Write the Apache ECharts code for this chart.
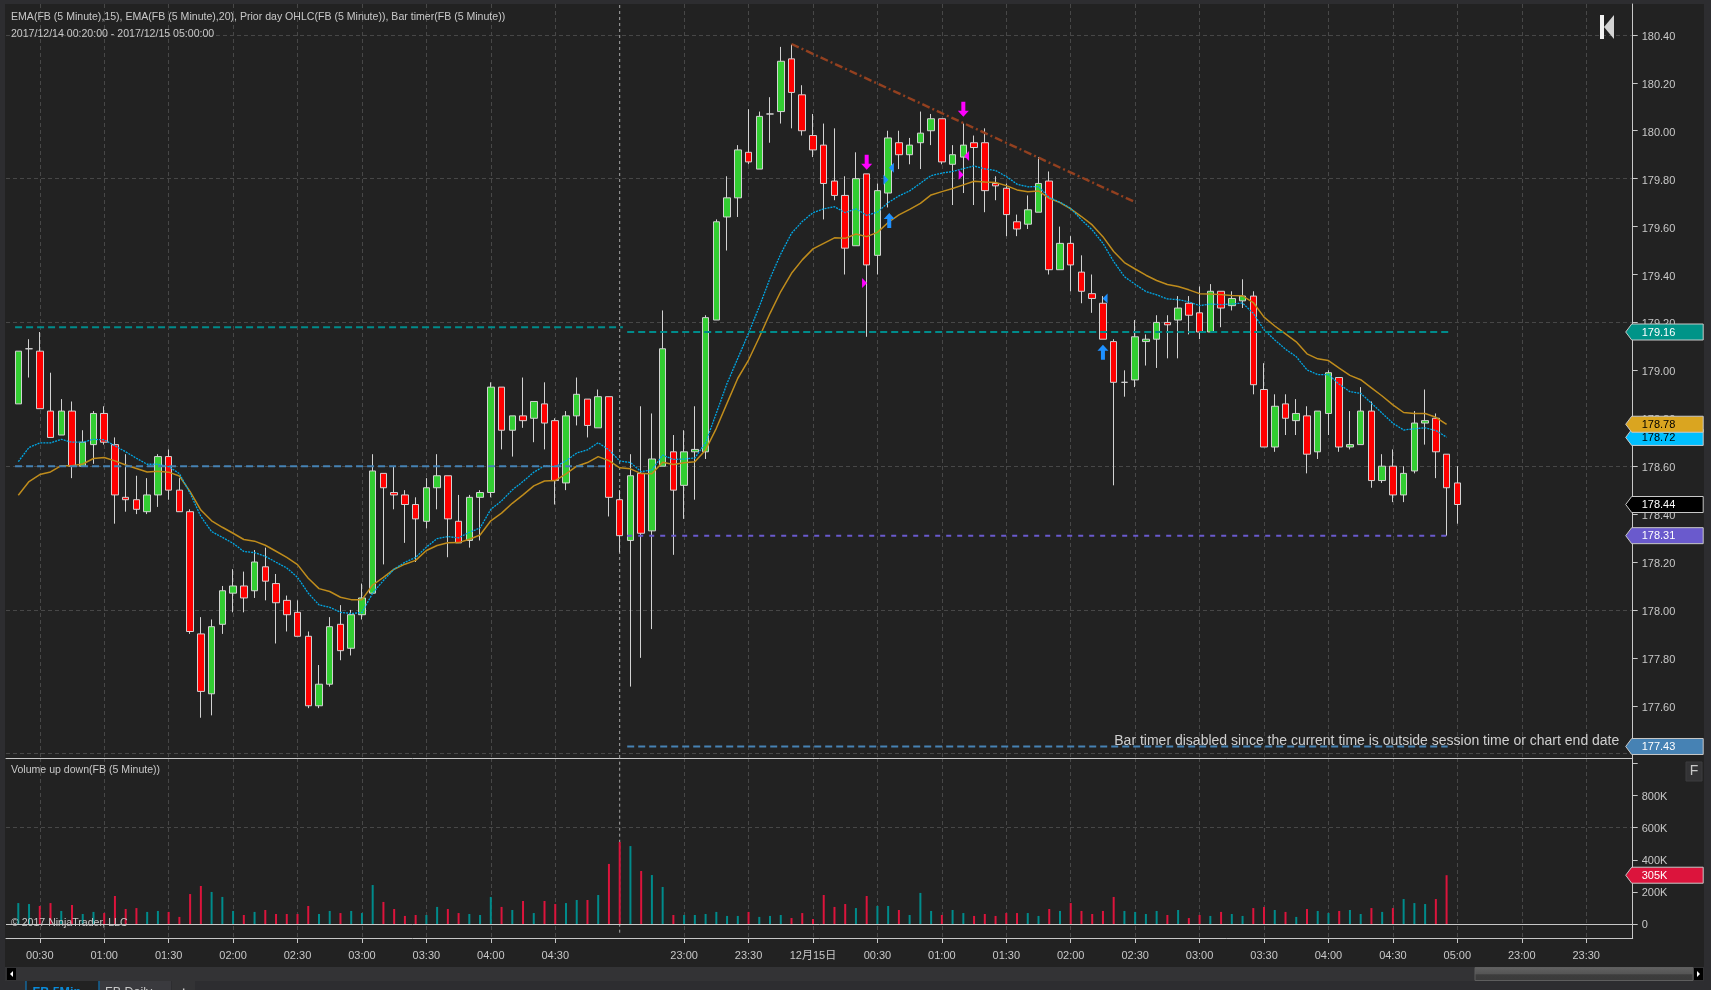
<!DOCTYPE html>
<html><head><meta charset="utf-8">
<style>html,body{margin:0;padding:0;background:#2d2d30;overflow:hidden}#c{width:1711px;height:990px}</style>
<script src="https://cdn.jsdelivr.net/npm/echarts@6/dist/echarts.min.js"></script>
</head><body><div id="c"></div>
<script>
// ---- data; bar index 0 = 00:20, one bar every 5 minutes of session ----
const opens=[178.86,179.09,179.08,178.83,178.73,178.83,178.60,178.69,178.82,178.69,178.47,178.46,178.41,178.48,178.64,178.50,178.41,177.90,177.65,177.94,178.07,178.10,178.08,178.18,178.11,178.04,177.99,177.89,177.60,177.69,177.94,177.84,177.98,178.07,178.57,178.49,178.48,178.44,178.37,178.51,178.56,178.37,178.29,178.47,178.49,178.93,178.75,178.81,178.80,178.86,178.79,178.53,178.81,178.88,178.76,178.89,178.46,178.29,178.57,178.33,178.60,178.66,178.52,178.66,178.66,179.21,179.64,179.72,179.91,179.84,180.07,180.08,180.30,180.15,179.98,179.94,179.79,179.73,179.52,179.82,179.48,179.74,179.95,179.90,179.95,180.00,180.05,179.86,179.89,179.95,179.95,179.78,179.76,179.62,179.61,179.66,179.79,179.42,179.53,179.41,179.32,179.28,179.12,178.95,178.96,179.12,179.13,179.20,179.21,179.28,179.24,179.16,179.33,179.27,179.29,179.31,178.92,178.68,178.86,178.79,178.81,178.66,178.82,178.97,178.68,178.69,178.83,178.54,178.60,178.48,178.58,178.78,178.80,178.65,178.53];
const closes=[179.08,179.09,178.84,178.72,178.83,178.60,178.70,178.82,178.70,178.48,178.46,178.42,178.48,178.64,178.50,178.41,177.91,177.66,177.93,178.08,178.10,178.05,178.20,178.12,178.03,177.98,177.89,177.60,177.69,177.93,177.83,177.98,178.05,178.58,178.51,178.48,178.44,178.38,178.51,178.56,178.38,178.28,178.47,178.49,178.93,178.75,178.81,178.79,178.87,178.78,178.54,178.81,178.90,178.77,178.89,178.47,178.31,178.56,178.32,178.63,179.09,178.50,178.66,178.67,179.22,179.62,179.72,179.92,179.87,180.06,180.07,180.29,180.16,180.00,179.92,179.78,179.73,179.51,179.80,179.44,179.75,179.97,179.90,179.94,179.99,180.05,179.87,179.90,179.94,179.93,179.75,179.77,179.65,179.59,179.67,179.78,179.42,179.53,179.44,179.33,179.30,179.13,178.95,178.95,179.14,179.13,179.20,179.19,179.26,179.23,179.16,179.33,179.26,179.30,179.31,178.94,178.68,178.85,178.80,178.82,178.65,178.83,178.99,178.68,178.69,178.83,178.54,178.60,178.48,178.57,178.78,178.79,178.66,178.51,178.44];
const lows=[178.86,178.97,178.84,178.72,178.73,178.55,178.60,178.61,178.69,178.36,178.41,178.40,178.40,178.43,178.46,178.41,177.90,177.55,177.56,177.90,177.99,177.99,178.05,178.04,177.86,177.91,177.89,177.59,177.59,177.68,177.79,177.81,177.96,178.07,178.19,178.42,178.28,178.20,178.34,178.42,178.22,178.28,178.26,178.29,178.47,178.67,178.64,178.76,178.70,178.67,178.44,178.50,178.77,178.72,178.76,178.39,178.24,177.68,177.80,177.92,178.60,178.23,178.38,178.46,178.63,179.21,179.50,179.64,179.86,179.84,179.95,180.03,180.01,179.98,179.89,179.63,179.71,179.40,179.52,179.14,179.40,179.68,179.84,179.86,179.84,179.94,179.86,179.69,179.74,179.69,179.66,179.71,179.56,179.56,179.59,179.66,179.40,179.42,179.33,179.28,179.24,179.13,178.52,178.89,178.93,179.02,179.01,179.05,179.05,179.15,179.13,179.16,179.18,179.25,179.26,178.90,178.68,178.66,178.73,178.73,178.57,178.63,178.73,178.66,178.67,178.69,178.51,178.53,178.45,178.45,178.57,178.69,178.55,178.31,178.36];
const highs=[179.08,179.13,179.16,178.99,178.88,178.87,178.75,178.83,178.85,178.72,178.65,178.56,178.55,178.65,178.67,178.55,178.42,177.97,177.96,178.10,178.17,178.16,178.25,178.26,178.15,178.06,178.04,177.91,177.77,177.97,178.02,178.00,178.11,178.65,178.57,178.60,178.50,178.47,178.55,178.65,178.56,178.48,178.48,178.50,178.95,178.93,178.81,178.97,178.87,178.95,178.80,178.83,178.97,178.88,178.92,178.89,178.50,178.65,178.85,178.82,179.25,178.73,178.75,178.85,179.23,179.63,179.81,179.94,180.09,180.08,180.14,180.35,180.36,180.19,180.07,180.03,180.01,179.81,179.91,179.82,179.78,180.00,180.00,179.97,180.08,180.07,180.05,179.94,180.03,179.98,180.01,179.81,179.78,179.65,179.73,179.89,179.83,179.60,179.56,179.48,179.40,179.31,179.13,179.00,179.21,179.15,179.23,179.23,179.31,179.31,179.35,179.36,179.33,179.33,179.38,179.33,179.03,178.90,178.90,178.88,178.85,178.83,179.00,178.97,178.83,178.93,178.87,178.65,178.67,178.60,178.83,178.92,178.82,178.65,178.60];
const ema15=[178.619,178.678,178.697,178.697,178.712,178.700,178.700,178.712,178.710,178.685,178.660,178.633,178.608,178.608,178.598,178.569,178.487,178.390,178.327,178.303,178.278,178.244,178.239,178.224,178.199,178.175,178.136,178.070,178.021,178.011,177.990,177.985,177.989,178.070,178.123,178.170,178.199,178.219,178.262,178.298,178.306,178.301,178.324,178.342,178.420,178.455,178.501,178.536,178.575,178.601,178.598,178.622,178.655,178.668,178.698,178.668,178.622,178.615,178.577,178.584,178.646,178.628,178.630,178.634,178.698,178.821,178.946,179.050,179.155,179.266,179.384,179.486,179.572,179.621,179.658,179.674,179.683,179.658,179.674,179.647,179.660,179.700,179.728,179.749,179.781,179.813,179.823,179.830,179.842,179.853,179.841,179.834,179.809,179.777,179.766,179.767,179.721,179.702,179.676,179.628,179.586,179.530,179.454,179.391,179.359,179.329,179.315,179.298,179.295,179.286,179.270,179.277,179.274,179.277,179.281,179.238,179.169,179.127,179.088,179.057,179.002,178.982,178.982,178.942,178.911,178.904,178.863,178.821,178.779,178.751,178.756,178.760,178.749,178.721];
const ema20=[178.479,178.536,178.565,178.576,178.602,178.602,178.609,178.632,178.636,178.622,178.605,178.590,178.576,178.579,178.575,178.559,178.494,178.417,178.372,178.345,178.320,178.294,178.287,178.270,178.245,178.219,178.189,178.132,178.089,178.077,178.053,178.043,178.043,178.104,178.136,178.170,178.191,178.207,178.248,178.269,178.280,178.281,178.295,178.313,178.372,178.404,178.445,178.480,178.518,178.538,178.540,178.568,178.600,178.615,178.640,178.623,178.593,178.589,178.569,178.568,178.616,178.607,178.614,178.618,178.668,178.758,178.863,178.967,179.043,179.138,179.238,179.329,179.405,179.461,179.507,179.530,179.553,179.551,179.569,179.558,179.576,179.617,179.649,179.672,179.697,179.732,179.746,179.759,179.774,179.789,179.786,179.784,179.771,179.753,179.745,179.749,179.718,179.700,179.674,179.642,179.607,179.558,179.496,179.450,179.423,179.397,179.375,179.358,179.350,179.336,179.320,179.319,179.316,179.312,179.311,179.283,179.222,179.185,179.152,179.119,179.069,179.048,179.041,179.009,178.979,178.961,178.927,178.893,178.856,178.824,178.820,178.820,178.804,178.774];
const volumes=[132,126,114,132,83,120,64,77,70,176,95,101,77,83,77,46,188,238,201,170,83,58,77,89,64,64,64,114,64,83,70,83,70,244,139,95,52,58,58,108,95,70,64,58,170,108,89,145,70,145,126,132,151,151,182,375,511,486,331,306,232,58,58,58,64,77,52,52,77,46,52,58,39,70,33,182,108,126,101,176,114,114,89,58,195,83,58,89,70,52,64,52,70,70,70,52,95,83,132,83,64,83,170,83,77,64,83,58,89,39,58,52,77,64,52,101,108,89,77,46,95,83,70,83,89,64,101,77,101,157,132,126,157,305];
const volumeDown=[0,0,1,1,0,1,0,0,1,1,1,1,0,0,1,1,1,1,0,0,0,1,0,1,1,1,1,1,0,0,1,0,0,0,1,1,1,1,0,0,1,1,0,0,0,1,0,1,0,1,1,0,0,1,0,1,1,0,1,0,0,1,0,0,0,0,0,0,1,0,0,0,1,1,1,1,1,1,0,1,0,0,1,0,0,0,1,0,0,1,1,1,1,1,0,0,1,0,1,1,1,1,1,0,0,0,0,1,0,1,1,0,1,0,0,1,1,0,1,0,1,0,0,1,0,0,1,0,1,0,0,0,1,1];
const tickBars=[2,8,14,20,26,32,38,44,50,62,68,74,80,86,92,98,104,110,116,122,128,134,140,146];
const timeLabels=['00:30','01:00','01:30','02:00','02:30','03:00','03:30','04:00','04:30','23:00','23:30','12月15日','00:30','01:00','01:30','02:00','02:30','03:00','03:30','04:00','04:30','05:00','23:00','23:30'];
const priceLabels=[177.6,177.8,178.0,178.2,178.4,178.6,178.8,179.0,179.2,179.4,179.6,179.8,180.0,180.2,180.4];
const priceTicks=[177.4].concat(priceLabels);
const priceGrid=[177.4,178.0,178.6,179.2,179.8,180.4];
const volumeLabels=[0,200,400,600,800];
const volumeTicks=[0,200,400,600,800,1000];
const volumeGrid=[600];
const levelStarts=[-0.3,-0.3,56.7,56.7,56.7];
const levelEnds=[56.3,55.1,133.3,133.1,133.1];
const levelPrices=[179.18,178.60,179.16,178.31,177.43];
const levelColors=['#008b8b','#4682b4','#008b8b','#6a5acd','#4682b4'];
const trendBars=[72,104];
const trendPrices=[180.362,179.702];
const sellArrows=[[79,179.868],[88,180.09]];
const buyArrows=[[81.1,179.625],[101,179.075]];
const magentaRight=[[78.8,179.365],[87.8,179.816]];
const magentaLeft=[[88.3,179.895]];
const blueRight=[[80.8,179.795]];
const blueLeft=[[81.3,179.846],[101.2,179.30]];
const sessionBreakBar=56;
const tagPrices=[179.16,178.72,178.775,178.44,178.31,177.43];
const tagTexts=['179.16','178.72','178.78','178.44','178.31','177.43'];
const tagFills=['#009488','#00bfff','#daa520','#000000','#6a5acd','#4682b4'];
const tagInks=['#ffffff','#000000','#000000','#ffffff','#ffffff','#ffffff'];

// ---- layout ----
const FONT='"Liberation Sans","Noto Sans CJK SC",sans-serif';
const INK='#c8c8c8', GRID='#474747';
const xMin=-1.145,xMax=150.33;
const pMin=177.382,pMax=180.529,vMin=-85,vMax=1033;

const gridLine={show:true,lineStyle:{color:GRID,width:1,type:[4,3]}};
function hiddenY(gridIndex,min,max,values){
  return {type:'value',gridIndex,position:'left',min,max,scale:true,axisLine:{show:false},axisLabel:{show:false},
    axisTick:{show:false,customValues:values},splitLine:gridLine};
}
function labelY(gridIndex,min,max,ticks,labels,fmt,lineH){
  return {type:'value',gridIndex,position:'right',min,max,scale:true,
    axisLine:{show:true,onZero:false,lineStyle:{color:INK,width:1}},
    axisTick:{show:true,length:5,customValues:ticks,lineStyle:{color:INK}},
    axisLabel:{show:true,margin:9,customValues:labels,formatter:fmt,color:INK,fontFamily:FONT,fontSize:11,verticalAlign:'top',lineHeight:lineH},
    splitLine:{show:false}};
}
function tagSeries(xAxisIndex,yAxisIndex,prices,texts,fills,inks,z){
  return {type:'custom',xAxisIndex,yAxisIndex,z,silent:true,clip:false,
    encode:{x:0,y:1},data:prices.map(p=>[xMax,p]),
    renderItem(params,api){
      const c=api.coord([api.value(0),api.value(1)]);
      const i=params.dataIndex,x=c[0],y=c[1];
      return {type:'group',children:[
        {type:'polygon',shape:{points:[[x-7,y],[x-1,y-8],[x+70.5,y-8],[x+70.5,y+8],[x-1,y+8]]},
         style:{fill:fills[i],stroke:INK,lineWidth:1}},
        {type:'text',style:{x:x+9,y:y+0.5,text:texts[i],fill:inks[i],font:'11px '+FONT,verticalAlign:'middle',textAlign:'left'}}
      ]};
    }};
}
function marker(name,data,symbol,size,color,rotate){
  return {type:'scatter',name,xAxisIndex:0,yAxisIndex:0,data,symbol,symbolSize:size,symbolRotate:rotate||0,
    itemStyle:{color,opacity:1},z:8,silent:true,clip:false};
}
const DOWN='path://M3.5,0 L7.5,0 L7.5,9 L11,9 L5.5,15 L0,9 L3.5,9 Z';
const UP='path://M5.5,0 L11,6 L7.5,6 L7.5,15 L3.5,15 L3.5,6 L0,6 Z';

const levelSeries=levelPrices.map((p,i)=>({type:'line',xAxisIndex:0,yAxisIndex:0,silent:true,showSymbol:false,symbol:'none',z:6,
  data:[[levelStarts[i],p],[levelEnds[i],p]],lineStyle:{color:levelColors[i],width:2,type:levelColors[i]==='#6a5acd'?[5,6]:[7,4]}}));

const option={
  animation:false,
  backgroundColor:'#2d2d30',
  grid:[{left:6,top:4,width:1626.7,height:754},{left:6,top:758,width:1626.7,height:180}],
  xAxis:[
    {type:'value',gridIndex:0,min:xMin,max:xMax,position:'bottom',
     axisLine:{show:true,onZero:false,lineStyle:{color:INK,width:1}},axisLabel:{show:false},
     axisTick:{show:false,customValues:tickBars},splitLine:gridLine},
    {type:'value',gridIndex:1,min:xMin,max:xMax,position:'bottom',
     axisLine:{show:true,onZero:false,lineStyle:{color:INK,width:1}},
     axisTick:{show:true,length:5,customValues:tickBars,lineStyle:{color:INK}},
     axisLabel:{show:true,margin:12,customValues:tickBars,color:INK,fontFamily:FONT,fontSize:11,
       formatter:v=>timeLabels[tickBars.indexOf(v)]||''},
     splitLine:gridLine}
  ],
  yAxis:[
    labelY(0,pMin,pMax,priceTicks,priceLabels,v=>v.toFixed(2),4),
    hiddenY(0,pMin,pMax,priceGrid),
    labelY(1,vMin,vMax,volumeTicks,volumeLabels,v=>v===0?'0':v+'K',2),
    hiddenY(1,vMin,vMax,volumeGrid)
  ],
  series:[
    {type:'line',xAxisIndex:0,yAxisIndex:0,silent:true,symbol:'none',z:1,data:[[sessionBreakBar,pMin],[sessionBreakBar,pMax]],
     lineStyle:{color:'#a8a8a8',width:1,type:[3,3]}},
    {type:'line',xAxisIndex:1,yAxisIndex:2,silent:true,symbol:'none',z:1,data:[[sessionBreakBar,-52],[sessionBreakBar,vMax]],
     lineStyle:{color:'#a8a8a8',width:1,type:[3,3]}},
    {type:'candlestick',xAxisIndex:0,yAxisIndex:0,layout:'horizontal',barWidth:7,z:3,silent:true,
     encode:{x:0,y:[1,2,3,4]},
     data:opens.map((o,i)=>[i,o,closes[i],lows[i],highs[i]]),
     itemStyle:{color:'#32cd32',color0:'#ff0000',borderColor:'#d2d2d2',borderColor0:'#d2d2d2',borderColorDoji:'#d2d2d2',borderWidth:1}},
    ...levelSeries,
    {type:'line',name:'EMA20',xAxisIndex:0,yAxisIndex:0,silent:true,symbol:'none',z:5,
     data:ema20.map((v,i)=>[i,v]),lineStyle:{color:'#bf8c1c',width:1.5}},
    {type:'line',name:'EMA15',xAxisIndex:0,yAxisIndex:0,silent:true,symbol:'none',z:5,
     data:ema15.map((v,i)=>[i,v]),lineStyle:{color:'#00a8e6',width:1.3,type:[2,1]}},
    {type:'line',name:'Trend',xAxisIndex:0,yAxisIndex:0,silent:true,symbol:'none',z:6,
     data:trendBars.map((b,i)=>[b,trendPrices[i]]),lineStyle:{color:'#93401f',width:2.4,type:[8,3,2,3]}},
    marker('sell',sellArrows,DOWN,[11,15],'#ff00ff'),
    marker('buy',buyArrows,UP,[11,15],'#1e90ff'),
    marker('mr',magentaRight,'triangle',[10,5],'#ff00ff',-90),
    marker('ml',magentaLeft,'triangle',[10,5],'#ff00ff',90),
    marker('br',blueRight,'triangle',[10,5],'#1e90ff',-90),
    marker('bl',blueLeft,'triangle',[10,5],'#1e90ff',90),
    {type:'bar',xAxisIndex:1,yAxisIndex:2,barWidth:2,silent:true,z:3,
     data:volumes.map((v,i)=>({value:[i,v],itemStyle:{color:volumeDown[i]?'#dc143c':'#008b8b'}})),
     markLine:{silent:true,symbol:'none',label:{show:false},animation:false,lineStyle:{color:INK,width:1,type:'solid'},data:[{yAxis:0}]}},
    tagSeries(0,0,tagPrices,tagTexts,tagFills,tagInks,20),
    tagSeries(1,2,[305],['305K'],['#dc143c'],['#ffffff'],20)
  ],
  graphic:{elements:[
    {type:'rect',z:-10,silent:true,shape:{x:5,y:4,width:1699,height:963},style:{fill:'#222222'}},
    {type:'rect',z:-9,silent:true,shape:{x:5,y:967,width:1699,height:14},style:{fill:'#333335'}},
    {type:'rect',z:50,silent:true,shape:{x:7,y:968,width:9,height:12},style:{fill:'#000'}},
    {type:'polygon',z:51,silent:true,shape:{points:[[10,974],[13,971],[13,977]]},style:{fill:'#fff'}},
    {type:'rect',z:50,silent:true,shape:{x:1694,y:968,width:9,height:12},style:{fill:'#000'}},
    {type:'polygon',z:51,silent:true,shape:{points:[[1700,974],[1697,971],[1697,977]]},style:{fill:'#fff'}},
    {type:'rect',z:50,silent:true,shape:{x:1475,y:967.5,width:218,height:13},
      style:{stroke:'#5e5e5e',lineWidth:1,fill:new echarts.graphic.LinearGradient(0,0,0,1,[{offset:0,color:'#626262'},{offset:.5,color:'#555555'},{offset:.55,color:'#3d3d3d'},{offset:1,color:'#3a3a3a'}])}},
    {type:'rect',z:50,silent:true,shape:{x:26,y:981,width:73,height:9},style:{fill:'#222222'}},
    {type:'rect',z:50,silent:true,shape:{x:25.5,y:981,width:1,height:9},style:{fill:'#0a84d0'}},
    {type:'rect',z:50,silent:true,shape:{x:98.5,y:981,width:1,height:9},style:{fill:'#0a84d0'}},
    {type:'rect',z:50,silent:true,shape:{x:100,y:981,width:71,height:9},style:{fill:'#3a3a3e'}},
    {type:'rect',z:50,silent:true,shape:{x:172,y:981,width:23,height:9},style:{fill:'#333335'}},
    {type:'text',z:60,silent:true,style:{x:32.5,y:986.5,text:'FB 5Min',fill:'#0a8ad8',font:'bold 12.5px '+FONT}},
    {type:'text',z:60,silent:true,style:{x:105,y:986.5,text:'FB Daily',fill:INK,font:'12.5px '+FONT}},
    {type:'text',z:60,silent:true,style:{x:180,y:986.5,text:'+',fill:INK,font:'bold 12.5px '+FONT}},
    {type:'text',z:60,silent:true,style:{x:11,y:17,text:'EMA(FB (5 Minute),15), EMA(FB (5 Minute),20), Prior day OHLC(FB (5 Minute)), Bar timer(FB (5 Minute))',fill:INK,font:'10.57px '+FONT,verticalAlign:'middle'}},
    {type:'text',z:60,silent:true,style:{x:11,y:34,text:'2017/12/14 00:20:00 - 2017/12/15 05:00:00',fill:INK,font:'10.57px '+FONT,verticalAlign:'middle'}},
    {type:'text',z:60,silent:true,style:{x:11,y:770.5,text:'Volume up down(FB (5 Minute))',fill:INK,font:'10.57px '+FONT,verticalAlign:'middle'}},
    {type:'text',z:60,silent:true,style:{x:11,y:923,text:'© 2017 NinjaTrader, LLC',fill:INK,font:'10.57px '+FONT,verticalAlign:'middle'}},
    {type:'text',z:60,silent:true,style:{x:1619.3,y:741,text:'Bar timer disabled since the current time is outside session time or chart end date',fill:'#d0d0d0',font:'14px '+FONT,verticalAlign:'middle',textAlign:'right'}},
    {type:'rect',z:60,silent:true,shape:{x:1600,y:15,width:4,height:24},style:{fill:'#f2f2f2'}},
    {type:'polygon',z:60,silent:true,shape:{points:[[1604,27],[1614,15],[1614,39]]},style:{fill:'#d4d4d4'}},
    {type:'rect',z:60,silent:true,shape:{x:1686,y:762,width:16,height:19},style:{fill:'#333335',stroke:'#3c3c3e'}},
    {type:'text',z:61,silent:true,style:{x:1694,y:771.5,text:'F',fill:INK,font:'14px '+FONT,textAlign:'center',verticalAlign:'middle'}}
  ]}
};
const chart=echarts.init(document.getElementById('c'),null,{renderer:'canvas',width:1711,height:990});
chart.setOption(option);
</script></body></html>
